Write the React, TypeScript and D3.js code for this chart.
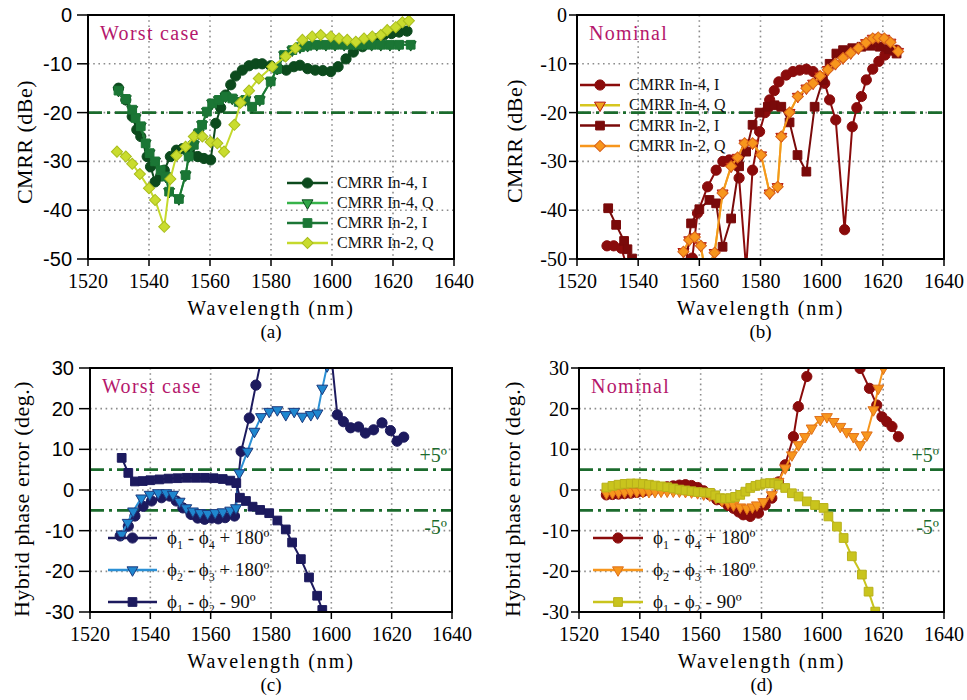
import React from 'react';
import * as d3 from 'd3';

type Pt = [number, number];
type Shape = 'circle' | 'triangle' | 'square' | 'diamond';

// tick values
const xTicks = [1520, 1540, 1560, 1580, 1600, 1620, 1640];
const cmrrTicks = [0, -10, -20, -30, -40, -50];
const phaseTicks = [30, 20, 10, 0, -10, -20, -30];

// legend labels
const cmrrLabels = ['CMRR In-4, I', 'CMRR In-4, Q', 'CMRR In-2, I', 'CMRR In-2, Q'];
const phaseLabels: [string, string, string][] = [['1', '4', '+ 180º'], ['2', '3', '+ 180º'], ['1', '2', '- 90º']];

// (a) worst case CMRR
const aIn4I: Pt[] = [[1530,-15],[1532.4,-17.4],[1534.5,-20.8],[1536,-23.5],[1537.3,-24.9],[1539.4,-29],[1540.5,-31.1],[1542,-34.2],[1543.8,-33],[1545,-31.8],[1547,-29],[1549,-27.7],[1551,-27.4],[1553.5,-28.4],[1556,-29],[1558,-29.4],[1560.2,-29.7],[1561.9,-22.2],[1563.5,-19],[1565.1,-16.4],[1566.8,-14.3],[1568.4,-12.5],[1570.6,-11.3],[1572.8,-10.4],[1575,-10],[1577.1,-10],[1579.9,-10.4],[1582.5,-11],[1585,-11.3],[1587.5,-10.6],[1589.5,-10.3],[1592,-11],[1594.5,-11.3],[1597,-11.4],[1599.6,-11.6],[1602,-10.6],[1604.6,-9],[1607,-7.6],[1610,-6.5],[1612.5,-5.8],[1615,-4.8],[1617,-4.1],[1619.5,-3.8],[1622,-3.5],[1624.6,-3.3]];
const aIn4Q: Pt[] = [[1530,-15.5],[1532.4,-17.2],[1534.5,-19.4],[1535.6,-21.1],[1537.3,-22.8],[1538.9,-26.3],[1540.2,-28.3],[1542,-30],[1543.8,-31.8],[1545.5,-33.1],[1546.6,-36.2],[1549.8,-37.7],[1552,-32.8],[1553,-29],[1554.7,-26.6],[1556.3,-24.2],[1557.4,-22.5],[1559,-19.8],[1560.7,-18.1],[1562.9,-17.4],[1565.1,-16.7],[1567.3,-17.1],[1569.4,-17.8],[1571.6,-17.4],[1573.8,-18.8],[1576.3,-17.4],[1579.9,-13.6],[1582,-11],[1584.3,-8.2],[1587,-7.2],[1589.5,-6.6],[1592,-6.3],[1595,-6.1],[1598,-6.1],[1601,-6.1],[1604,-6.1],[1607,-6.1],[1610,-6.1],[1613,-6.1],[1616,-6.1],[1619,-6.1],[1622,-6.1],[1625.8,-6.1]];
const aIn2I: Pt[] = [[1530,-15.5],[1532.4,-17.2],[1534.5,-19.4],[1535.6,-21.1],[1537.3,-22.8],[1538.9,-26.3],[1540.2,-28.3],[1542,-30],[1543.8,-31.8],[1545.5,-33.1],[1546.6,-36.2],[1549.8,-37.7],[1552,-32.8],[1553,-29],[1554.7,-26.6],[1556.3,-24.2],[1557.4,-22.5],[1559,-19.8],[1560.7,-18.1],[1562.9,-17.4],[1565.1,-16.7],[1567.3,-17.1],[1569.4,-17.8],[1571.6,-17.4],[1573.8,-18.8],[1576.3,-17.4],[1579.9,-13.6],[1582,-11],[1584.3,-8.2],[1587,-7.2],[1589.5,-6.6],[1592,-6.3],[1595,-6.1],[1598,-6.1],[1601,-6.1],[1604,-6.1],[1607,-6.1],[1610,-6.1],[1613,-6.1],[1616,-6.1],[1619,-6.1],[1622,-6.1],[1625.8,-6.1]];
const aIn2Q: Pt[] = [[1529.5,-28],[1532.4,-29],[1534.5,-30.5],[1537,-32.6],[1540,-35.5],[1542,-37.9],[1545,-43.4],[1547,-33.6],[1549,-28.8],[1552,-27],[1554.7,-24.9],[1557.5,-24.9],[1560.2,-26],[1562.4,-26.3],[1564.6,-28],[1568,-22.5],[1570,-18],[1572.8,-15.5],[1576,-13],[1580.4,-10.6],[1584.8,-8.5],[1588,-6.8],[1590.3,-5.1],[1593.5,-4.4],[1596.3,-4.1],[1599.6,-4.4],[1602.3,-4.8],[1605,-5.1],[1607.8,-5.5],[1610.5,-4.8],[1613.2,-4.4],[1616,-4.1],[1618.1,-3.1],[1620.9,-2.5],[1623.1,-1.5],[1625.2,-1.2]];

// (b) nominal CMRR
const bIn4I: Pt[] = [[1529.8,-47.3],[1532,-47.3],[1534.5,-47.8],[1537,-53],[1555,-53],[1557.7,-49.8],[1559.4,-40.6],[1562.7,-35.2],[1565.5,-31.8],[1567.7,-30],[1569.8,-29.7],[1571.5,-30.5],[1573,-33.4],[1575.3,-52],[1577.4,-31.8],[1579.7,-23.9],[1581.5,-20],[1583,-17.4],[1584.5,-15.5],[1586,-13.7],[1588.4,-12.3],[1590.6,-11.6],[1592.8,-11.3],[1595,-11.1],[1597.2,-11.6],[1599.3,-12.6],[1601,-14],[1602.6,-17.4],[1604.6,-21.5],[1607.5,-44],[1610,-22.9],[1611.5,-19],[1613,-16.7],[1614.6,-13.3],[1616.7,-11.1],[1618.7,-9.5],[1620.7,-8.2],[1622.8,-7.2],[1624.5,-7.2]];
const bIn4Q: Pt[] = [[1554.8,-48.5],[1556.7,-46.1],[1558.5,-45.5],[1560.5,-47.3],[1562,-53],[1565,-48.7],[1567.6,-36.5],[1570.4,-31],[1572.5,-29.2],[1574.8,-26.3],[1577.4,-26.3],[1580.2,-28.7],[1583,-36.5],[1585.6,-35.2],[1586.8,-24.9],[1589.5,-20],[1592.2,-16.7],[1595,-15],[1597.2,-14],[1599.5,-12.5],[1602,-11.2],[1604.5,-10],[1607,-8.8],[1609.5,-7.8],[1612,-6.8],[1614.5,-5.7],[1616.7,-4.8],[1618.5,-4.6],[1620.5,-4.8],[1622.5,-5.6],[1625,-7.5]];
const bIn2I: Pt[] = [[1530.2,-39.6],[1532.8,-43],[1535.4,-46.3],[1536.5,-48],[1538,-49.9],[1540,-54],[1555,-54],[1557.3,-42.7],[1560,-39.8],[1563.3,-37.9],[1565.5,-38.6],[1567.6,-47.5],[1570.4,-41.7],[1573,-31],[1575.3,-28],[1577.4,-22.5],[1579.7,-20],[1582.4,-18.8],[1584.6,-18.5],[1586.8,-18.8],[1589.5,-22],[1592.1,-28.7],[1595,-32.1],[1597.7,-18.8],[1600.4,-13.3],[1602.6,-10],[1604.8,-7.9],[1607,-7.2],[1610,-6.8],[1613,-6.5],[1616,-6.3],[1619,-6.5],[1622,-7],[1624.5,-7.9]];
const bIn2Q: Pt[] = [[1554.8,-48.5],[1556.7,-46.1],[1558.5,-45.5],[1560.5,-47.3],[1562,-53],[1565,-48.7],[1567.6,-36.5],[1570.4,-31],[1572.5,-29.2],[1574.8,-26.3],[1577.4,-26.3],[1580.2,-28.7],[1583,-36.5],[1585.6,-35.2],[1586.8,-24.9],[1589.5,-20],[1592.2,-16.7],[1595,-15],[1597.2,-14],[1599.5,-12.5],[1602,-11.2],[1604.5,-10],[1607,-8.8],[1609.5,-7.8],[1612,-6.8],[1614.5,-5.7],[1616.7,-4.8],[1618.5,-4.6],[1620.5,-4.8],[1622.5,-5.6],[1625,-7.5]];

// (c) worst case phase error
const cPhi14: Pt[] = [[1530,-11.3],[1532.7,-8.9],[1534.9,-6.4],[1537.6,-4],[1540.4,-2.7],[1543.7,-1.9],[1546.4,-1.5],[1548.6,-2.7],[1550.8,-4.4],[1553.5,-6],[1555.7,-6.9],[1558,-7.2],[1560.3,-6.9],[1562.5,-7.1],[1564.8,-6.8],[1567.9,-6.4],[1570.1,9.5],[1572.8,17.7],[1575,25.8],[1577,33],[1600,33],[1602,18.5],[1604,16.8],[1606.4,15.3],[1609,15.5],[1611.3,14],[1614,14.8],[1616.8,16.5],[1619.6,14.6],[1621.8,12],[1624,13]];
const cPhi23: Pt[] = [[1530.5,-10.9],[1532.5,-8],[1534.3,-5.2],[1537,-2],[1539.8,-1.1],[1542.6,-0.7],[1545.3,-0.7],[1547.5,-1.1],[1549.7,-2.8],[1551.9,-4.4],[1554.1,-5.2],[1556.5,-5.6],[1559,-5.8],[1561.5,-5.6],[1564,-5.4],[1566.5,-5],[1568.4,-4.4],[1569.5,4.2],[1572.2,9.5],[1574.5,14.4],[1576.7,18],[1579.4,19.3],[1582.1,19.7],[1584.9,18.5],[1587.7,19.3],[1590.4,18.1],[1593.2,18.5],[1595.4,18.9],[1597,25],[1598.6,30.5],[1600,34]];
const cPhi12: Pt[] = [[1530.5,7.9],[1532.7,4.2],[1534.9,2.1],[1537.5,2.2],[1540,2.4],[1543,2.6],[1546,2.8],[1549,2.9],[1552,3],[1555,3],[1558,3],[1561,2.9],[1564,2.7],[1566.5,2.3],[1568.5,1.7],[1569.7,-1.9],[1571.7,-2.7],[1573.9,-4.1],[1576.4,-4.9],[1579.4,-5.7],[1582.1,-7.5],[1584.9,-9.7],[1587,-12.9],[1589.9,-17],[1592.6,-21.5],[1595.3,-26],[1597,-29.5],[1598,-32]];

// (d) nominal phase error
const dPhi14: Pt[] = [[1529,-1.2],[1531,-1.1],[1533,-1],[1535,-0.9],[1537,-0.8],[1539,-0.6],[1541,-0.4],[1543,-0.1],[1545,0.2],[1547,0.5],[1549,0.8],[1551,1],[1553,1.2],[1555,1.3],[1557,1.1],[1559,0.6],[1561,-0.2],[1563,-1.2],[1565.3,-2.4],[1567.5,-2.8],[1569,-3.8],[1570.8,-4.5],[1572.5,-5.4],[1574,-6.1],[1576.3,-6.5],[1579,-5.7],[1581.2,-3.7],[1583.4,-2],[1585.6,2],[1587.8,6.2],[1590.5,13.1],[1592.1,20.5],[1594.9,27.9],[1596.5,33],[1611,33],[1612.4,29.9],[1615.5,25],[1617.9,20.9],[1619.6,18],[1621.2,16.8],[1622.9,15.6],[1625,13.1]];
const dPhi23: Pt[] = [[1529,-0.8],[1531,-0.7],[1533,-0.6],[1535,-0.5],[1537,-0.4],[1539,-0.4],[1541,-0.4],[1543,-0.4],[1545,-0.4],[1547,-0.3],[1549,-0.3],[1551,-0.3],[1553,-0.3],[1555,-0.4],[1557,-0.5],[1559,-0.7],[1561,-1],[1563,-1.3],[1565,-1.9],[1567,-2.6],[1569,-3.2],[1570.8,-3.7],[1573,-4.2],[1575.2,-4.5],[1577,-4.2],[1578.5,-3.7],[1580.6,-2.9],[1583.4,-1.2],[1585.6,2.1],[1587.8,5.4],[1590,8.6],[1592.2,11.1],[1594.3,13.1],[1596.5,15.2],[1599.3,17.3],[1601.5,18],[1603.7,16.8],[1605.9,15.6],[1608,14.3],[1610.2,13.1],[1612.4,11.1],[1614.6,13.5],[1616.8,19.7],[1618.4,25],[1620.1,30]];
const dPhi12: Pt[] = [[1529,0.6],[1531,1],[1533,1.3],[1535,1.5],[1537,1.6],[1539,1.6],[1541,1.5],[1543,1.3],[1545,1.1],[1547,0.9],[1549,0.7],[1551,0.4],[1553,0.1],[1555,-0.1],[1557,-0.3],[1559,-0.5],[1561,-0.6],[1563.1,-0.7],[1564.8,-1.3],[1566.4,-2],[1568,-2.1],[1569.7,-2],[1571.3,-1.7],[1573,-1.2],[1574.7,-0.4],[1576.3,0.5],[1578,1],[1579.5,1.3],[1581.2,1.6],[1582.8,1.7],[1584.2,1.6],[1585.6,1.3],[1587.8,0.5],[1590,-0.8],[1592.2,-1.6],[1594.9,-2.8],[1597.6,-3.7],[1600.4,-4.4],[1602,-6.5],[1604.8,-9],[1607,-11.8],[1609.7,-16.3],[1613,-20.8],[1615.2,-25],[1617.4,-29.9]];

const serif = "'Liberation Serif', 'Times New Roman', serif";
const sans = "'Liberation Sans', Arial, sans-serif";
const refGreen = '#1b6b2d';
const tagColor = '#b5176c';

interface Series { data: Pt[]; line: string; fill: string; stroke: string; shape: Shape }

function Marker({ shape, x, y, fill, stroke }: { shape: Shape; x: number; y: number; fill: string; stroke: string }) {
  const type = shape === 'circle' ? d3.symbolCircle : shape === 'triangle' ? d3.symbolTriangle : d3.symbolSquare;
  const size = shape === 'circle' ? 82 : shape === 'triangle' ? 52 : shape === 'square' ? 76 : 62;
  const rot = shape === 'triangle' ? 180 : shape === 'diamond' ? 45 : 0;
  const d = d3.symbol(type, size)() || '';
  return <path d={d} transform={`translate(${x},${y}) rotate(${rot})`} fill={fill} stroke={stroke} strokeWidth={1} />;
}

function PhaseLabel({ x, y, parts }: { x: number; y: number; parts: [string, string, string] }) {
  return (
    <text x={x} y={y} fontSize={19} fontFamily={serif} fill="#111">
      ϕ<tspan dy={5} fontSize={12}>{parts[0]}</tspan>
      <tspan dy={-5}> - ϕ</tspan><tspan dy={5} fontSize={12}>{parts[1]}</tspan>
      <tspan dy={-5}> {parts[2]}</tspan>
    </text>
  );
}

interface PanelProps {
  id: string;
  box: { left: number; top: number; right: number; bottom: number };
  yTicks: number[];
  refs: number[];
  series: Series[];
  tag: string;
  yTitle: string;
  yTitlePos: [number, number];
  sansY: boolean;
  caption: string;
  legend: { x1: number; x2: number; xt: number; y0: number; dy: number; phase: boolean };
}

function Panel({ id, box, yTicks, refs, series, tag, yTitle, yTitlePos, sansY, caption, legend }: PanelProps) {
  const x = d3.scaleLinear().domain([1520, 1640]).range([box.left, box.right]);
  const y = d3.scaleLinear().domain([d3.min(yTicks)!, d3.max(yTicks)!]).range([box.bottom, box.top]);
  const line = d3.line<Pt>().x(d => x(d[0])).y(d => y(d[1]));
  const cx = (box.left + box.right) / 2;
  const lx = (legend.x1 + legend.x2) / 2;
  const tickLen = sansY ? 11 : 8;
  const labelGap = sansY ? 16 : 10;
  return (
    <g>
      <defs>
        <clipPath id={`clip-${id}`}>
          <rect x={box.left} y={box.top} width={box.right - box.left} height={box.bottom - box.top} />
        </clipPath>
      </defs>
      {/* dotted grid */}
      {xTicks.slice(1, -1).map(t => (
        <line key={'gx' + t} x1={x(t)} x2={x(t)} y1={box.top} y2={box.bottom} stroke="#8c8c8c" strokeWidth={1.6} strokeDasharray="1.6 3.6" />
      ))}
      {yTicks.slice(1, -1).map(t => (
        <line key={'gy' + t} x1={box.left} x2={box.right} y1={y(t)} y2={y(t)} stroke="#8c8c8c" strokeWidth={1.6} strokeDasharray="1.6 3.6" />
      ))}
      {refs.map(r => (
        <line key={'r' + r} x1={box.left} x2={box.right} y1={y(r)} y2={y(r)} stroke={refGreen} strokeWidth={2.6} strokeDasharray="14 5 3 5" />
      ))}
      {refs.length > 1 && (
        <g fontFamily={serif} fontSize={20} fill={refGreen} textAnchor="end">
          <text x={box.right - 5} y={y(5) - 8}>+5º</text>
          <text x={box.right - 5} y={y(-5) + 24}>-5º</text>
        </g>
      )}
      {/* series */}
      <g clipPath={`url(#clip-${id})`}>
        {series.map((s, i) => (
          <g key={i}>
            <path d={line(s.data) || ''} fill="none" stroke={s.line} strokeWidth={2} />
            {s.data.map((p, j) => (
              <Marker key={j} shape={s.shape} x={x(p[0])} y={y(p[1])} fill={s.fill} stroke={s.stroke} />
            ))}
          </g>
        ))}
      </g>
      {/* legend */}
      {series.map((s, i) => {
        const ly = legend.y0 + i * legend.dy;
        return (
          <g key={'l' + i}>
            <line x1={legend.x1} x2={legend.x2} y1={ly} y2={ly} stroke={s.line} strokeWidth={2.5} />
            <Marker shape={s.shape} x={lx} y={ly} fill={s.fill} stroke={s.stroke} />
            {legend.phase
              ? <PhaseLabel x={legend.xt} y={ly + 6} parts={phaseLabels[i]} />
              : <text x={legend.xt} y={ly + 5} fontSize={16} fontFamily={serif} fill="#111">{cmrrLabels[i]}</text>}
          </g>
        );
      })}
      <text x={box.left + 12} y={box.top + 25} fontFamily={serif} fontSize={20} letterSpacing={1.3} fill={tagColor}>{tag}</text>
      {/* frame and axes */}
      <rect x={box.left} y={box.top} width={box.right - box.left} height={box.bottom - box.top} fill="none" stroke="#000" strokeWidth={2} />
      {xTicks.map(t => (
        <g key={'tx' + t}>
          <line x1={x(t)} x2={x(t)} y1={box.bottom} y2={box.bottom + 7} stroke="#000" strokeWidth={1.5} />
          <text x={x(t)} y={box.bottom + 29} textAnchor="middle" fontFamily={serif} fontSize={20} fill="#000">{t}</text>
        </g>
      ))}
      {yTicks.map(t => (
        <g key={'ty' + t}>
          <line x1={box.left - tickLen} x2={box.left} y1={y(t)} y2={y(t)} stroke="#000" strokeWidth={1.5} />
          <text x={box.left - labelGap} y={y(t) + 7} textAnchor="end" fontFamily={sansY ? sans : serif} fontSize={20} fill="#000">{t}</text>
        </g>
      ))}
      <text x={cx} y={box.bottom + 56} textAnchor="middle" fontFamily={serif} fontSize={20} letterSpacing={1.9} fill="#000">Wavelength (nm)</text>
      <text x={cx} y={box.bottom + 79} textAnchor="middle" fontFamily={serif} fontSize={19} fill="#000">{caption}</text>
      <text transform={`translate(${yTitlePos[0]},${yTitlePos[1]}) rotate(-90)`} textAnchor="middle" fontFamily={serif} fontSize={22} letterSpacing={0.5} fill="#000">{yTitle}</text>
    </g>
  );
}

export default function App() {
  const cmrrY = 'CMRR (dBe)';
  const phaseY = 'Hybrid phase error (deg.)';
  return (
    <svg width={967} height={700} style={{ position: 'absolute', left: 0, top: 0, background: '#fff' }}>
      <Panel id="a" box={{ left: 88, top: 15, right: 454, bottom: 259 }} yTicks={cmrrTicks} refs={[-20]}
        tag="Worst case" yTitle={cmrrY} yTitlePos={[32, 142]} sansY={true} caption="(a)"
        legend={{ x1: 287, x2: 328, xt: 337, y0: 183, dy: 20, phase: false }}
        series={[
          { data: aIn4I, line: '#0c4a1d', fill: '#0c4a1d', stroke: '#0c4a1d', shape: 'circle' },
          { data: aIn4Q, line: '#37b34a', fill: '#2fa646', stroke: '#0c4a1d', shape: 'triangle' },
          { data: aIn2I, line: '#1b7635', fill: '#1b7635', stroke: '#1b7635', shape: 'square' },
          { data: aIn2Q, line: '#c5d92c', fill: '#c9dc2e', stroke: '#a9bd1c', shape: 'diamond' },
        ]} />
      <Panel id="b" box={{ left: 577, top: 15, right: 944, bottom: 259 }} yTicks={cmrrTicks} refs={[-20]}
        tag="Nominal" yTitle={cmrrY} yTitlePos={[522, 141]} sansY={false} caption="(b)"
        legend={{ x1: 580, x2: 620, xt: 629, y0: 85, dy: 20.3, phase: false }}
        series={[
          { data: bIn4I, line: '#8a0b0b', fill: '#8a0b0b', stroke: '#8a0b0b', shape: 'circle' },
          { data: bIn4Q, line: '#d6c61f', fill: '#f0a21e', stroke: '#b3130f', shape: 'triangle' },
          { data: bIn2I, line: '#7a0a0a', fill: '#7a0a0a', stroke: '#7a0a0a', shape: 'square' },
          { data: bIn2Q, line: '#f7961d', fill: '#f7961d', stroke: '#d9621a', shape: 'diamond' },
        ]} />
      <Panel id="c" box={{ left: 90, top: 368, right: 452, bottom: 612 }} yTicks={phaseTicks} refs={[5, -5]}
        tag="Worst case" yTitle={phaseY} yTitlePos={[29, 499]} sansY={true} caption="(c)"
        legend={{ x1: 108, x2: 157, xt: 167, y0: 538, dy: 32, phase: true }}
        series={[
          { data: cPhi14, line: '#1c1a5e', fill: '#1c1a5e', stroke: '#1c1a5e', shape: 'circle' },
          { data: cPhi23, line: '#2b90d5', fill: '#1f87cf', stroke: '#1c3a7e', shape: 'triangle' },
          { data: cPhi12, line: '#1c1a5e', fill: '#1c1a5e', stroke: '#1c1a5e', shape: 'square' },
        ]} />
      <Panel id="d" box={{ left: 579, top: 368, right: 944, bottom: 612 }} yTicks={phaseTicks} refs={[5, -5]}
        tag="Nominal" yTitle={phaseY} yTitlePos={[520, 499]} sansY={false} caption="(d)"
        legend={{ x1: 593, x2: 643, xt: 653, y0: 538, dy: 32, phase: true }}
        series={[
          { data: dPhi14, line: '#8a0b0b', fill: '#8a0b0b', stroke: '#8a0b0b', shape: 'circle' },
          { data: dPhi23, line: '#f7961d', fill: '#f7961d', stroke: '#e0701a', shape: 'triangle' },
          { data: dPhi12, line: '#c9c41d', fill: '#c9c41d', stroke: '#b8b01a', shape: 'square' },
        ]} />
    </svg>
  );
}
